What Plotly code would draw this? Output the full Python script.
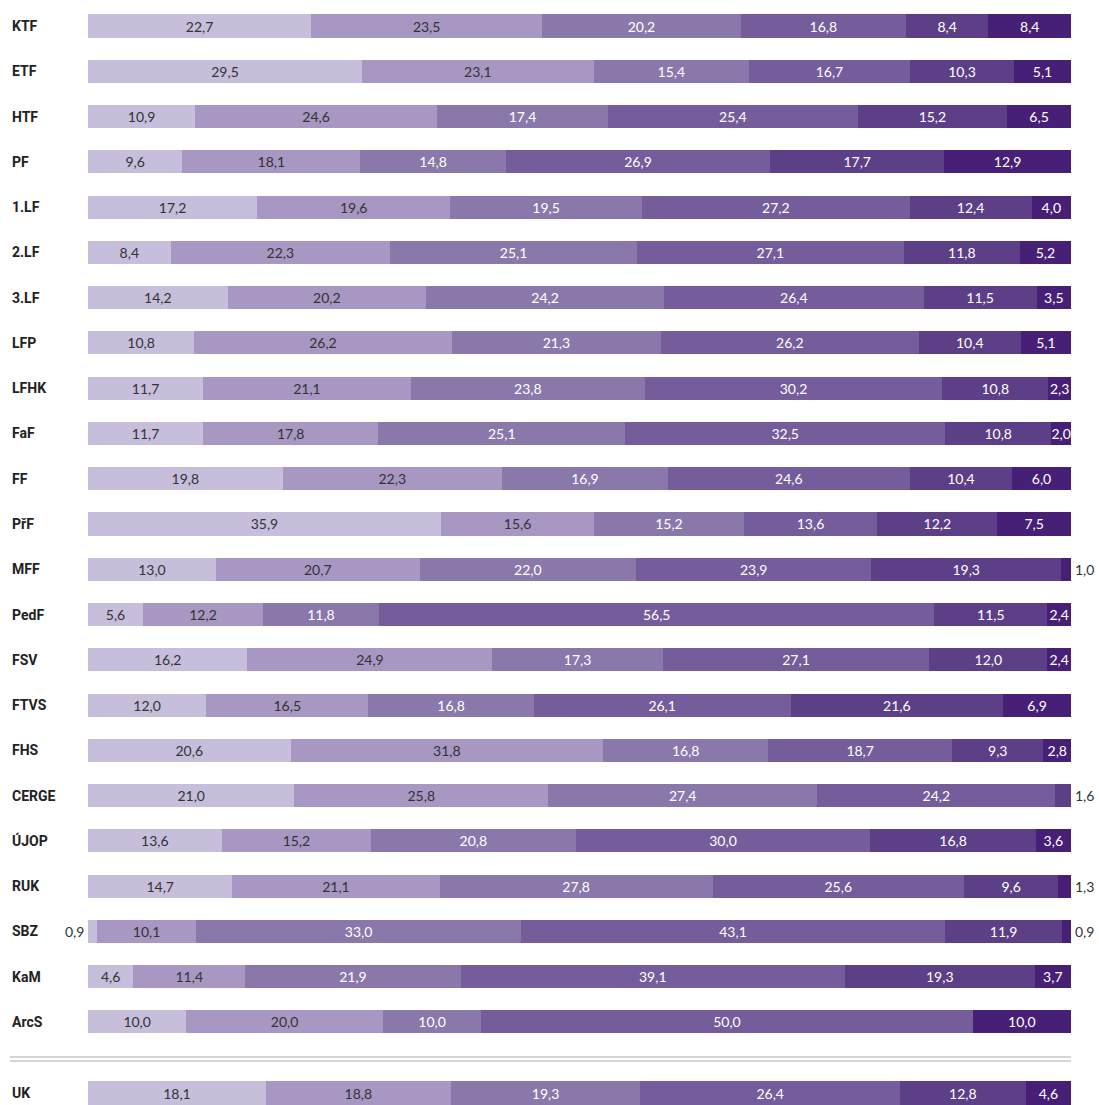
import plotly.graph_objects as go

categories = ["KTF", "ETF", "HTF", "PF", "1.LF", "2.LF", "3.LF", "LFP", "LFHK", "FaF", "FF",
              "PřF", "MFF", "PedF", "FSV", "FTVS", "FHS", "CERGE", "ÚJOP", "RUK", "SBZ",
              "KaM", "ArcS", "UK"]

# printed values (labels)
s1 = [22.7, 29.5, 10.9, 9.6, 17.2, 8.4, 14.2, 10.8, 11.7, 11.7, 19.8, 35.9, 13.0, 5.6, 16.2, 12.0, 20.6, 21.0, 13.6, 14.7, 0.9, 4.6, 10.0, 18.1]
s2 = [23.5, 23.1, 24.6, 18.1, 19.6, 22.3, 20.2, 26.2, 21.1, 17.8, 22.3, 15.6, 20.7, 12.2, 24.9, 16.5, 31.8, 25.8, 15.2, 21.1, 10.1, 11.4, 20.0, 18.8]
s3 = [20.2, 15.4, 17.4, 14.8, 19.5, 25.1, 24.2, 21.3, 23.8, 25.1, 16.9, 15.2, 22.0, 11.8, 17.3, 16.8, 16.8, 27.4, 20.8, 27.8, 33.0, 21.9, 10.0, 19.3]
s4 = [16.8, 16.7, 25.4, 26.9, 27.2, 27.1, 26.4, 26.2, 30.2, 32.5, 24.6, 13.6, 23.9, 56.5, 27.1, 26.1, 18.7, 24.2, 30.0, 25.6, 43.1, 39.1, 50.0, 26.4]
s5 = [8.4, 10.3, 15.2, 17.7, 12.4, 11.8, 11.5, 10.4, 10.8, 10.8, 10.4, 12.2, 19.3, 11.5, 12.0, 21.6, 9.3, 1.6, 16.8, 9.6, 11.9, 19.3, 0.0, 12.8]
s6 = [8.4, 5.1, 6.5, 12.9, 4.0, 5.2, 3.5, 5.1, 2.3, 2.0, 6.0, 7.5, 1.0, 2.4, 2.4, 6.9, 2.8, 0.0, 3.6, 1.3, 0.9, 3.7, 10.0, 4.6]

# the ETF bar in the source is drawn with slightly different lengths than its printed labels
etf_drawn = [27.9, 23.6, 15.8, 16.4, 10.6, 5.8]

series = [s1, s2, s3, s4, s5, s6]
colors = ["#c6bedb", "#a797c2", "#8b78ab", "#745d9a", "#5c3f87", "#471f77"]
text_colors = ["#333333", "#333333", "#ffffff", "#ffffff", "#ffffff", "#ffffff"]

SPACING = 45.27
ROW_TOP = 26.0
ypos = [i for i in range(23)] + [(1093 - ROW_TOP) / SPACING]

def fmt(v):
    return f"{v:.1f}".replace(".", ",")

OUT_LIMIT = 1.7
NUM_FONT = "Lato, 'Open Sans', sans-serif"
ETF_IDX = categories.index("ETF")

fig = go.Figure()
annotations = []
for k, (vals, col, tcol) in enumerate(zip(series, colors, text_colors)):
    drawn = list(vals)
    drawn[ETF_IDX] = etf_drawn[k]
    texts = [fmt(v) if v >= OUT_LIMIT else "" for v in vals]
    fig.add_trace(go.Bar(
        y=ypos, x=drawn, orientation="h", width=0.51,
        marker=dict(color=col, line=dict(width=0)),
        text=texts, textposition="inside", insidetextanchor="middle",
        constraintext="none", textangle=0,
        textfont=dict(color=tcol, size=14, family=NUM_FONT),
        hoverinfo="skip", showlegend=False,
    ))

# outside labels for very small segments
for i, y in enumerate(ypos):
    if 0 < s1[i] < OUT_LIMIT:
        annotations.append(dict(x=0, y=y, xref="x", yref="y", text=fmt(s1[i]), showarrow=False,
                                xanchor="right", xshift=-2, font=dict(size=14, color="#333333", family=NUM_FONT)))
    last = None
    for k in range(5, -1, -1):
        if series[k][i] > 0:
            last = series[k][i]
            break
    if last is not None and last < OUT_LIMIT:
        annotations.append(dict(x=100, y=y, xref="x", yref="y", text=fmt(last), showarrow=False,
                                xanchor="left", xshift=2, font=dict(size=14, color="#333333", family=NUM_FONT)))

# category labels
LEFT = -(88 - 10) / 983
for cat, y in zip(categories, ypos):
    annotations.append(dict(x=LEFT, y=y, xref="paper", yref="y", text=f"<b>{cat}</b>", showarrow=False,
                            xanchor="left", font=dict(size=14, color="#222222", family="Roboto, Arial, sans-serif")))

shapes = []
for yy in [(1057 - ROW_TOP) / SPACING, (1061 - ROW_TOP) / SPACING]:
    shapes.append(dict(type="line", xref="paper", yref="y", x0=LEFT, x1=1, y0=yy, y1=yy,
                       line=dict(color="#c8c8c8", width=1.5)))

fig.update_layout(
    barmode="stack", barnorm="percent",
    width=1099, height=1105,
    margin=dict(l=88, r=28, t=0, b=0),
    plot_bgcolor="white", paper_bgcolor="white",
    xaxis=dict(range=[0, 100], visible=False, fixedrange=True),
    yaxis=dict(range=[-ROW_TOP / SPACING + 1105 / SPACING, -ROW_TOP / SPACING],
               visible=False, fixedrange=True),
    annotations=annotations, shapes=shapes,
)

fig.write_html("out.html", config={"displayModeBar": False},
               post_script="document.body.style.margin='0px';document.body.style.overflow='hidden';")
